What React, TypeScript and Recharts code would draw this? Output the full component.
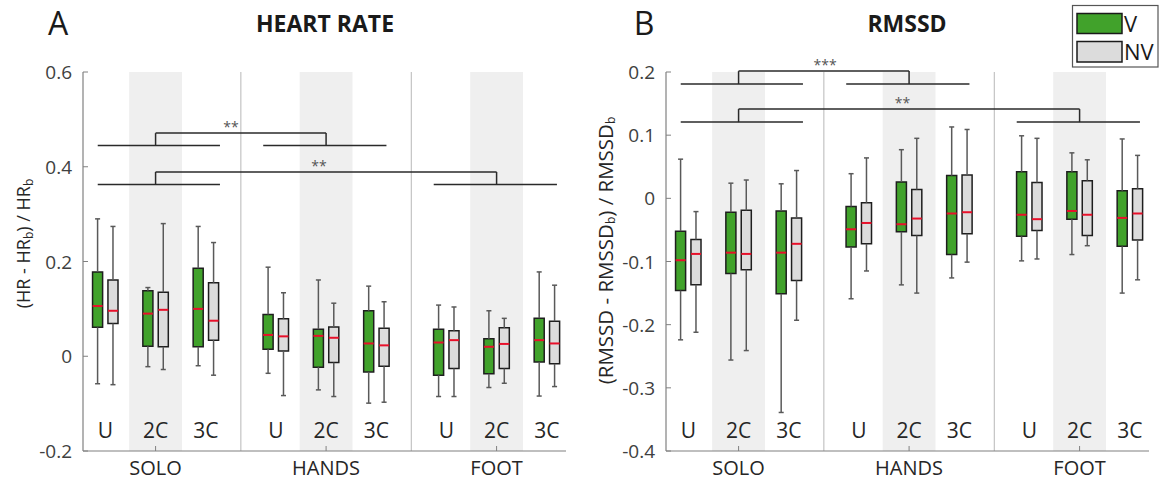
import React from "react";
import { ComposedChart, Scatter, XAxis, YAxis, ReferenceArea, ReferenceLine, ReferenceDot } from "recharts";

const SECTIONS = ["SOLO", "HANDS", "FOOT"];
const CONDITIONS = ["U", "2C", "3C"];

// each row: [min, q1, median, q3, max]; rows go SOLO U/2C/3C, HANDS U/2C/3C, FOOT U/2C/3C
const hrV = [
  [-0.058, 0.061, 0.106, 0.178, 0.29],
  [-0.022, 0.021, 0.09, 0.138, 0.145],
  [-0.02, 0.02, 0.1, 0.186, 0.274],
  [-0.036, 0.015, 0.045, 0.088, 0.188],
  [-0.071, -0.023, 0.043, 0.057, 0.161],
  [-0.099, -0.033, 0.027, 0.096, 0.148],
  [-0.085, -0.04, 0.029, 0.057, 0.108],
  [-0.066, -0.037, 0.02, 0.037, 0.096],
  [-0.084, -0.012, 0.034, 0.08, 0.178],
];
const hrNV = [
  [-0.06, 0.069, 0.096, 0.161, 0.274],
  [-0.028, 0.02, 0.098, 0.135, 0.28],
  [-0.04, 0.034, 0.075, 0.155, 0.24],
  [-0.083, 0.011, 0.042, 0.079, 0.134],
  [-0.085, -0.013, 0.039, 0.062, 0.112],
  [-0.097, -0.021, 0.023, 0.059, 0.115],
  [-0.085, -0.026, 0.034, 0.054, 0.104],
  [-0.057, -0.026, 0.026, 0.06, 0.08],
  [-0.064, -0.016, 0.027, 0.074, 0.15],
];
const rmssdV = [
  [-0.224, -0.146, -0.098, -0.052, 0.062],
  [-0.256, -0.119, -0.086, -0.022, 0.024],
  [-0.339, -0.151, -0.086, -0.02, 0.023],
  [-0.159, -0.077, -0.049, -0.013, 0.039],
  [-0.137, -0.053, -0.041, 0.026, 0.077],
  [-0.126, -0.089, -0.024, 0.036, 0.113],
  [-0.099, -0.06, -0.026, 0.042, 0.099],
  [-0.089, -0.033, -0.02, 0.042, 0.072],
  [-0.15, -0.076, -0.031, 0.012, 0.094],
];
const rmssdNV = [
  [-0.212, -0.137, -0.088, -0.065, -0.021],
  [-0.241, -0.113, -0.088, -0.019, 0.029],
  [-0.193, -0.13, -0.072, -0.031, 0.044],
  [-0.115, -0.072, -0.039, -0.007, 0.064],
  [-0.15, -0.059, -0.032, 0.014, 0.095],
  [-0.101, -0.056, -0.022, 0.037, 0.109],
  [-0.096, -0.051, -0.033, 0.025, 0.095],
  [-0.075, -0.059, -0.026, 0.028, 0.061],
  [-0.129, -0.066, -0.024, 0.015, 0.068],
];

const hrTicks = [-0.2, 0, 0.2, 0.4, 0.6];
const rmssdTicks = [-0.4, -0.3, -0.2, -0.1, 0, 0.1, 0.2];

const hrBrackets = [
  { from: 0, to: 1, base: 0.445, top: 0.471, stars: "**", textAt: 1.5 },
  { from: 0, to: 2, base: 0.3625, top: 0.389, stars: "**", textAt: 3.25 },
];
const rmssdBrackets = [
  { from: 0, to: 1, base: 0.181, top: 0.2014, stars: "***", textAt: 1.72 },
  { from: 0, to: 2, base: 0.1207, top: 0.1413, stars: "**", textAt: 3.26 },
];

const GREEN = "#41a22b";
const GREY = "#dcdcdc";
const WHISKER = "#595959";
const AXIS = "#808080";
const SECTION_GAP = 3.39;
const X_DOMAIN: [number, number] = [-1.443, 8.16];
const OFFSET = 0.153;
const HALF_BOX = 0.1;
const CAP = 0.05;
const PLOT_W = 483;

const sectionCenter = (s: number) => s * SECTION_GAP;
const groupPos = (i: number) => sectionCenter(Math.floor(i / 3)) + (i % 3) - 1;
const groupTicks = CONDITIONS.flatMap((_, s) => CONDITIONS.map((__, g) => groupPos(s * 3 + g)));

const YTick = ({ x, y, payload }: any) => (
  <g>
    <line x1={x} x2={x + 5} y1={y} y2={y} stroke={AXIS} />
    <text x={x - 11} y={y} textAnchor="end" dominantBaseline="central" fontSize={19} fill="#404040">
      {String(payload.value)}
    </text>
  </g>
);

const XTick = ({ x, y, index }: any) => (
  <g>
    <text x={x} y={y - 21} textAnchor="middle" dominantBaseline="central" fontSize={21} fill="#262626">
      {CONDITIONS[index % 3]}
    </text>
    {index % 3 === 1 && (
      <>
        <line x1={x} x2={x} y1={y} y2={y - 5} stroke={AXIS} />
        <text x={x} y={y + 16} textAnchor="middle" dominantBaseline="central" fontSize={20} fill="#262626">
          {SECTIONS[Math.floor(index / 3)]}
        </text>
      </>
    )}
  </g>
);

const YLabel = ({ viewBox, x0, shift, size, name }: any) => {
  const cy = viewBox.y + viewBox.height / 2 + shift;
  return (
    <text x={x0} y={cy} transform={`rotate(-90 ${x0} ${cy})`} textAnchor="middle" dominantBaseline="central" fontSize={size} fill="#262626">
      ({name} - {name}
      <tspan dy={5} fontSize={12}>b</tspan>
      <tspan dy={-5}>) / {name}</tspan>
      <tspan dy={5} fontSize={12}>b</tspan>
    </text>
  );
};

const boxElements = (stats: number[][], offset: number, fill: string, key: string) =>
  stats.flatMap(([lo, q1, , q3, hi], i) => {
    const x = groupPos(i) + offset;
    const seg = (x1: number, y1: number, x2: number, y2: number, k: string) => (
      <ReferenceLine key={`${key}${k}${i}`} segment={[{ x: x1, y: y1 }, { x: x2, y: y2 }]} stroke={WHISKER} strokeWidth={1.5} />
    );
    return [
      seg(x, q3, x, hi, "up"),
      seg(x, lo, x, q1, "dn"),
      seg(x - CAP, hi, x + CAP, hi, "ct"),
      seg(x - CAP, lo, x + CAP, lo, "cb"),
      <ReferenceArea
        key={`${key}box${i}`}
        x1={x - HALF_BOX}
        x2={x + HALF_BOX}
        y1={q1}
        y2={q3}
        fill={fill}
        fillOpacity={1}
        stroke="#1e1e1e"
        strokeWidth={1.5}
      />,
    ];
  });

const bracketElements = (brackets: typeof hrBrackets) =>
  brackets.flatMap((b, k) => {
    const a = sectionCenter(b.from);
    const c = sectionCenter(b.to);
    const seg = (x1: number, y1: number, x2: number, y2: number, n: string) => (
      <ReferenceLine key={`br${k}${n}`} segment={[{ x: x1, y: y1 }, { x: x2, y: y2 }]} stroke="#2a2a2a" strokeWidth={1.5} ifOverflow="visible" />
    );
    return [
      seg(a - 1.15, b.base, a + 1.28, b.base, "l"),
      seg(c - 1.25, b.base, c + 1.2, b.base, "r"),
      seg(a, b.base, a, b.top, "a"),
      seg(a, b.top, c, b.top, "t"),
      seg(c, b.top, c, b.base, "c"),
      <ReferenceDot
        key={`br${k}s`}
        x={b.textAt}
        y={b.top}
        r={0}
        stroke="none"
        ifOverflow="visible"
        label={{ value: b.stars, position: "top", offset: 1, fontSize: 14, fill: "#555" }}
      />,
    ];
  });

const MedianMark = ({ cx, cy }: any) => <line x1={cx - 5} x2={cx + 5} y1={cy} y2={cy} stroke="#e8102a" strokeWidth={2} />;

function Panel({ left, width, plotLeft, v, nv, domain, ticks, brackets, labelX, labelShift, labelSize, name }: any) {
  const vMedians = v.map((s: number[], i: number) => ({ x: groupPos(i) - OFFSET, y: s[2] }));
  const nvMedians = nv.map((s: number[], i: number) => ({ x: groupPos(i) + OFFSET, y: s[2] }));
  return (
    <div style={{ position: "absolute", left, top: 0 }}>
      <ComposedChart width={width} height={481} margin={{ top: 72, right: width - plotLeft - PLOT_W, bottom: 0, left: plotLeft - 40 }}>
        <XAxis
          type="number"
          dataKey="x"
          domain={X_DOMAIN}
          ticks={groupTicks}
          interval={0}
          allowDataOverflow
          tick={<XTick />}
          tickLine={false}
          tickSize={0}
          tickMargin={0}
          axisLine={{ stroke: AXIS, strokeWidth: 1.2 }}
          height={30}
        />
        <YAxis
          type="number"
          dataKey="y"
          domain={domain}
          ticks={ticks}
          interval={0}
          allowDataOverflow
          tick={<YTick />}
          tickLine={false}
          tickSize={0}
          tickMargin={0}
          axisLine={{ stroke: AXIS, strokeWidth: 1.2 }}
          width={40}
          label={<YLabel x0={labelX} shift={labelShift} size={labelSize} name={name} />}
        />
        {SECTIONS.map((_, s) => (
          <ReferenceArea key={`band${s}`} x1={sectionCenter(s) - 0.525} x2={sectionCenter(s) + 0.525} fill="#efefef" fillOpacity={1} stroke="none" />
        ))}
        {[0, 1].map((s) => (
          <ReferenceLine key={`sep${s}`} x={(sectionCenter(s) + sectionCenter(s + 1)) / 2} stroke="#c4c4c4" strokeWidth={1.2} />
        ))}
        {boxElements(v, -OFFSET, GREEN, "v")}
        {boxElements(nv, OFFSET, GREY, "nv")}
        {bracketElements(brackets)}
        <Scatter name="V" data={vMedians} fill={GREEN} shape={<MedianMark />} isAnimationActive={false} />
        <Scatter name="NV" data={nvMedians} fill={GREY} shape={<MedianMark />} isAnimationActive={false} />
      </ComposedChart>
    </div>
  );
}

export default function App() {
  return (
    <div style={{ position: "absolute", left: 0, top: 0, width: 1161, height: 481, background: "#fff", fontFamily: "'Open Sans', sans-serif" }}>
      <Panel left={0} width={580} plotLeft={83} v={hrV} nv={hrNV} domain={[-0.2, 0.6]} ticks={hrTicks} brackets={hrBrackets} labelX={23} labelShift={-18} labelSize={18} name="HR" />
      <Panel left={580} width={581} plotLeft={86} v={rmssdV} nv={rmssdNV} domain={[-0.4, 0.2]} ticks={rmssdTicks} brackets={rmssdBrackets} labelX={25} labelShift={-11} labelSize={20.5} name="RMSSD" />
      <svg width={1161} height={481} style={{ position: "absolute", left: 0, top: 0, pointerEvents: "none" }}>
        <text x={58} y={35} textAnchor="middle" fontSize={32} fill="#1a1a1a">A</text>
        <text x={325} y={31.5} textAnchor="middle" fontSize={23} fontWeight={700} fill="#1a1a1a">HEART RATE</text>
        <text x={644} y={35} textAnchor="middle" fontSize={32} fill="#1a1a1a">B</text>
        <text x={907} y={31.5} textAnchor="middle" fontSize={23} fontWeight={700} fill="#1a1a1a">RMSSD</text>
        <rect x={1072.5} y={5.5} width={85.5} height={61.5} fill="#fff" stroke="#555" strokeWidth={1.2} />
        <rect x={1077} y={13.5} width={45} height={20} fill={GREEN} stroke="#1a1a1a" strokeWidth={1.5} />
        <rect x={1077} y={41.5} width={45} height={20.5} fill={GREY} stroke="#1a1a1a" strokeWidth={1.5} />
        <text x={1124} y={31.5} fontSize={22} fill="#1a1a1a">V</text>
        <text x={1124} y={60} fontSize={22} fill="#1a1a1a">NV</text>
      </svg>
    </div>
  );
}
